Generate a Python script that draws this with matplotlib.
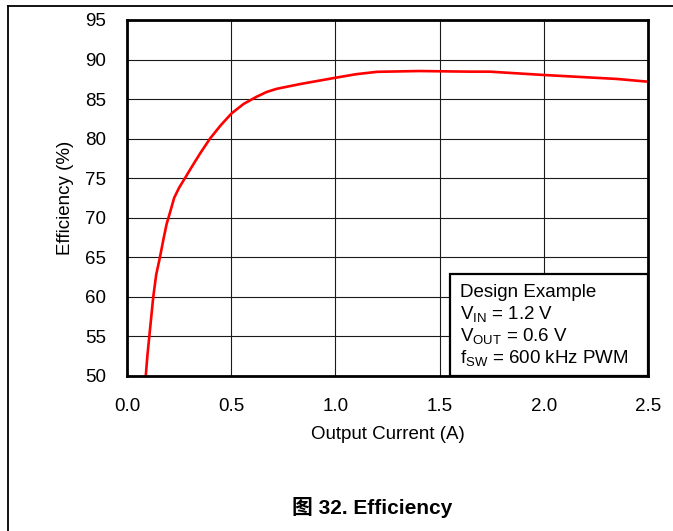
import matplotlib
matplotlib.use("Agg")
import matplotlib.pyplot as plt
from matplotlib.patches import Rectangle
from matplotlib.lines import Line2D

plt.rcParams['font.family'] = ['Liberation Sans', 'Noto Sans CJK SC', 'DejaVu Sans']
plt.rcParams['mathtext.default'] = 'regular'

# Efficiency curve
current = [0.09, 0.098, 0.107, 0.126, 0.14, 0.158, 0.175, 0.19, 0.21, 0.226,
           0.25, 0.278, 0.31, 0.35, 0.398, 0.45, 0.502, 0.56, 0.622, 0.67,
           0.718, 0.83, 1.0, 1.1, 1.2, 1.4, 1.65, 1.74, 2.0, 2.21, 2.35, 2.5]
efficiency = [50.0, 52.6, 55.0, 60.0, 62.8, 65.0, 67.3, 69.2, 71.0, 72.5,
              73.8, 75.0, 76.4, 78.1, 80.0, 81.7, 83.2, 84.4, 85.3, 85.9,
              86.3, 86.9, 87.7, 88.15, 88.45, 88.55, 88.47, 88.47, 88.05,
              87.75, 87.55, 87.2]

xticks = [0.0, 0.5, 1.0, 1.5, 2.0, 2.5]
yticks = [50, 55, 60, 65, 70, 75, 80, 85, 90, 95]
note_lines = ['Design Example',
              r'V$_{IN}$ = 1.2 V',
              r'V$_{OUT}$ = 0.6 V',
              r'f$_{SW}$ = 600 kHz PWM']

fs = 13.5

fig = plt.figure(figsize=(6.73, 5.31), dpi=100)
ax = fig.add_axes([127 / 673, 1 - 376 / 531, 521 / 673, 356 / 531])

ax.plot(current, efficiency, color='#ff0000', lw=1.9, zorder=3, clip_on=False)

ax.set_xlim(0, 2.5)
ax.set_ylim(50, 95)
ax.set_xticks(xticks)
ax.set_xticklabels(['%.1f' % t for t in xticks])
ax.set_yticks(yticks)
ax.tick_params(length=0, labelsize=fs)
ax.tick_params(axis='x', pad=16)
ax.tick_params(axis='y', pad=15)
ax.grid(True, color='#1a1a1a', lw=0.8)
for s in ax.spines.values():
    s.set_linewidth(2.0)
    s.set_zorder(4)

ax.set_xlabel('Output Current (A)', fontsize=fs, labelpad=8)
ax.set_ylabel('Efficiency (%)', fontsize=fs, labelpad=8)

# annotation box in lower right
bx0 = (450 - 127) / 521
bh = (376 - 274) / 356
ax.add_patch(Rectangle((bx0, 0), 1 - bx0, bh, transform=ax.transAxes,
                       facecolor='white', edgecolor='black', lw=1.6, zorder=5))
tx = (460 - 127) / 521
for i, line in enumerate(note_lines):
    yb = 297 + 22 * i
    ax.text(tx, (376 - yb) / 356, line, transform=ax.transAxes, fontsize=fs,
            va='baseline', ha='left', zorder=6)

fig.text(372 / 673, 1 - 508 / 531, '图 32. Efficiency', fontsize=15,
         fontweight='bold', ha='center', va='center')

# page frame lines
fig.add_artist(Line2D([8 / 673, 8 / 673], [0, 1 - 5.5 / 531], color='black',
                      lw=1.3, transform=fig.transFigure))
fig.add_artist(Line2D([8 / 673, 1], [1 - 5.5 / 531, 1 - 5.5 / 531], color='black',
                      lw=1.3, transform=fig.transFigure))

fig.savefig('out.png', dpi=100)
